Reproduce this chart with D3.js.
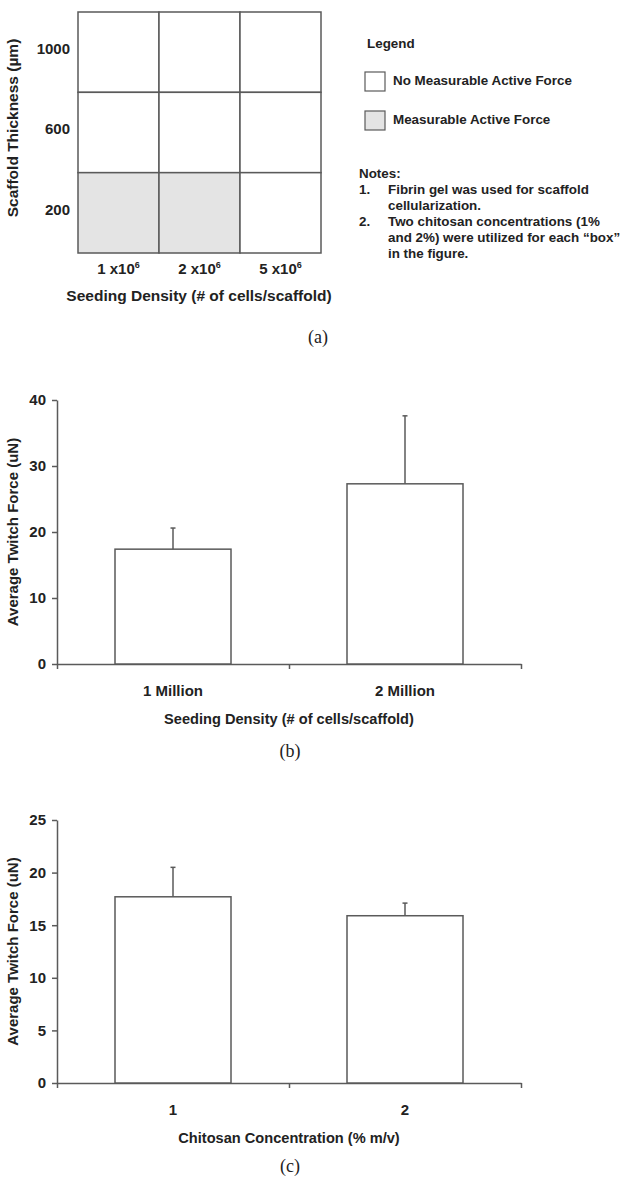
<!DOCTYPE html>
<html>
<head>
<meta charset="utf-8">
<script src="https://cdn.jsdelivr.net/npm/d3@7"></script>
<style>
  html, body { margin: 0; padding: 0; background: #fff; }
  svg { display: block; }
  text { font-family: "Liberation Sans", Arial, sans-serif; fill: #222; }
  .bold { font-weight: bold; }
  .panel-tag { font-family: "Liberation Serif", "Times New Roman", serif; font-size: 18px; fill: #222; }
</style>
</head>
<body>
<svg id="fig" width="621" height="1182"></svg>
<script>
// (a) test matrix: seeding density vs scaffold thickness
const densityMultipliers = ["1", "2", "5"];
const densityExponent = "6";
const thicknessValues = ["1000", "600", "200"];
// 1 = measurable active force, 0 = none (rows follow thicknessValues)
const activeForce = [
  [0, 0, 0],
  [0, 0, 0],
  [1, 1, 0]
];
const legendItems = ["No Measurable Active Force", "Measurable Active Force"];
const notesLines = [
  { num: "1.", text: "Fibrin gel was used for scaffold" },
  { num: "",   text: "cellularization." },
  { num: "2.", text: "Two chitosan concentrations (1%" },
  { num: "",   text: "and 2%) were utilized for each \u201cbox\u201d" },
  { num: "",   text: "in the figure." }
];

// (b) twitch force by seeding density
const seedingCats = ["1 Million", "2 Million"];
const seedingMeans = [17.4, 27.3];
const seedingErr = [3.2, 10.3];
const seedingTicks = [0, 10, 20, 30, 40];

// (c) twitch force by chitosan concentration
const chitosanCats = ["1", "2"];
const chitosanMeans = [17.7, 15.9];
const chitosanErr = [2.8, 1.2];
const chitosanTicks = [0, 5, 10, 15, 20, 25];

const svg = d3.select("#fig");
const lineColor = "#5a5a5a";

// ---------- panel (a) ----------
(function drawMatrix() {
  const g = svg.append("g");
  const x = d3.scaleBand().domain(densityMultipliers).range([78, 321]);
  const y = d3.scaleBand().domain(thicknessValues).range([12, 253]);

  thicknessValues.forEach((t, r) => {
    densityMultipliers.forEach((d, c) => {
      g.append("rect")
        .attr("x", x(d)).attr("y", y(t))
        .attr("width", x.bandwidth()).attr("height", y.bandwidth())
        .attr("fill", activeForce[r][c] ? "#e4e4e4" : "#fff")
        .attr("stroke", lineColor).attr("stroke-width", 1.5);
    });
  });

  g.selectAll(".rowlab").data(thicknessValues).join("text")
    .attr("class", "bold")
    .attr("x", 70).attr("y", d => y(d) + y.bandwidth() / 2 - 2)
    .attr("text-anchor", "end").attr("dominant-baseline", "middle")
    .attr("font-size", 15).text(d => d);

  const cl = g.selectAll(".collab").data(densityMultipliers).join("text")
    .attr("class", "bold")
    .attr("x", d => x(d) + x.bandwidth() / 2).attr("y", 274)
    .attr("text-anchor", "middle").attr("font-size", 15);
  cl.append("tspan").text(d => d + " x10");
  cl.append("tspan").attr("font-size", 9).attr("dy", -6).text(densityExponent);

  g.append("text").attr("class", "bold")
    .attr("x", 199).attr("y", 301).attr("text-anchor", "middle")
    .attr("font-size", 15.5).text("Seeding Density (# of cells/scaffold)");

  g.append("text").attr("class", "bold")
    .attr("transform", "translate(18,128) rotate(-90)")
    .attr("text-anchor", "middle").attr("font-size", 15.5)
    .text("Scaffold Thickness (\u00b5m)");

  // legend
  g.append("text").attr("class", "bold").attr("x", 367).attr("y", 48)
    .attr("font-size", 13.4).text("Legend");
  const fills = ["#fff", "#e4e4e4"];
  legendItems.forEach((lab, i) => {
    const yy = 72 + i * 39;
    g.append("rect").attr("x", 365).attr("y", yy).attr("width", 20).attr("height", 19)
      .attr("fill", fills[i]).attr("stroke", lineColor).attr("stroke-width", 1.2);
    g.append("text").attr("class", "bold").attr("x", 393).attr("y", yy + 13)
      .attr("font-size", 13.4).text(lab);
  });

  g.append("text").attr("class", "bold").attr("x", 359).attr("y", 178)
    .attr("font-size", 13.4).text("Notes:");
  notesLines.forEach((n, i) => {
    const yy = 194 + i * 16;
    if (n.num) g.append("text").attr("class", "bold").attr("x", 359).attr("y", yy)
      .attr("font-size", 13.4).text(n.num);
    g.append("text").attr("class", "bold").attr("x", 388).attr("y", yy)
      .attr("font-size", 13.4).text(n.text);
  });

  svg.append("text").attr("class", "panel-tag").attr("x", 318).attr("y", 343)
    .attr("text-anchor", "middle").text("(a)");
})();

// ---------- bar panels (b) and (c) ----------
function barPanel(opts) {
  const g = svg.append("g");
  const x0 = 57, x1 = 521;
  const x = d3.scaleBand().domain(opts.cats).range([x0, x1])
    .paddingInner(0.5).paddingOuter(0.25);
  const y = d3.scaleLinear().domain([0, opts.max]).range([opts.bottom, opts.top]);

  // y axis
  const ya = g.append("g").attr("transform", `translate(${x0},0)`)
    .call(d3.axisLeft(y).tickValues(opts.ticks).tickSize(5).tickSizeOuter(0).tickPadding(6));
  ya.select(".domain").attr("stroke", lineColor).attr("stroke-width", 1.5);
  ya.selectAll(".tick line").attr("stroke", lineColor).attr("stroke-width", 1.5);
  ya.selectAll(".tick text").attr("class", "bold").attr("font-size", 15)
    .attr("font-family", "Liberation Sans, Arial, sans-serif").attr("fill", "#222");

  // x axis: tick marks at category boundaries
  const xb = d3.scaleLinear().domain([0, opts.cats.length]).range([x0, x1]);
  const xa = g.append("g").attr("transform", `translate(0,${opts.bottom})`)
    .call(d3.axisBottom(xb).tickValues(d3.range(0, opts.cats.length + 1))
      .tickSize(5).tickSizeOuter(0).tickFormat(""));
  xa.select(".domain").attr("stroke", lineColor).attr("stroke-width", 1.5);
  xa.selectAll(".tick line").attr("stroke", lineColor).attr("stroke-width", 1.5);

  // bars
  g.selectAll(".bar").data(opts.cats).join("rect")
    .attr("x", d => x(d)).attr("width", x.bandwidth())
    .attr("y", (d, i) => y(opts.means[i]))
    .attr("height", (d, i) => y(0) - y(opts.means[i]))
    .attr("fill", "#fff").attr("stroke", lineColor).attr("stroke-width", 1.5);

  // upper error bars
  opts.cats.forEach((d, i) => {
    const cx = x(d) + x.bandwidth() / 2;
    const yt = y(opts.means[i] + opts.err[i]);
    g.append("line").attr("x1", cx).attr("x2", cx)
      .attr("y1", y(opts.means[i])).attr("y2", yt)
      .attr("stroke", lineColor).attr("stroke-width", 1.5);
    g.append("line").attr("x1", cx - 2.5).attr("x2", cx + 2.5)
      .attr("y1", yt).attr("y2", yt)
      .attr("stroke", lineColor).attr("stroke-width", 1.5);
  });

  // category labels
  g.selectAll(".catlab").data(opts.cats).join("text")
    .attr("class", "bold").attr("font-size", 15)
    .attr("x", d => x(d) + x.bandwidth() / 2).attr("y", opts.bottom + 32)
    .attr("text-anchor", "middle").text(d => d);

  g.append("text").attr("class", "bold").attr("font-size", 14.6)
    .attr("x", (x0 + x1) / 2).attr("y", opts.bottom + 60)
    .attr("text-anchor", "middle").text(opts.xTitle);

  g.append("text").attr("class", "bold").attr("font-size", 15)
    .attr("transform", `translate(18,${(opts.top + opts.bottom) / 2}) rotate(-90)`)
    .attr("text-anchor", "middle").text("Average Twitch Force (uN)");

  svg.append("text").attr("class", "panel-tag")
    .attr("x", 290).attr("y", opts.tagY).attr("text-anchor", "middle").text(opts.tag);
}

barPanel({
  cats: seedingCats, means: seedingMeans, err: seedingErr, ticks: seedingTicks,
  max: 40, top: 400, bottom: 664,
  xTitle: "Seeding Density (# of cells/scaffold)", tag: "(b)", tagY: 757
});

barPanel({
  cats: chitosanCats, means: chitosanMeans, err: chitosanErr, ticks: chitosanTicks,
  max: 25, top: 820, bottom: 1083,
  xTitle: "Chitosan Concentration (% m/v)", tag: "(c)", tagY: 1172
});
</script>
</body>
</html>
